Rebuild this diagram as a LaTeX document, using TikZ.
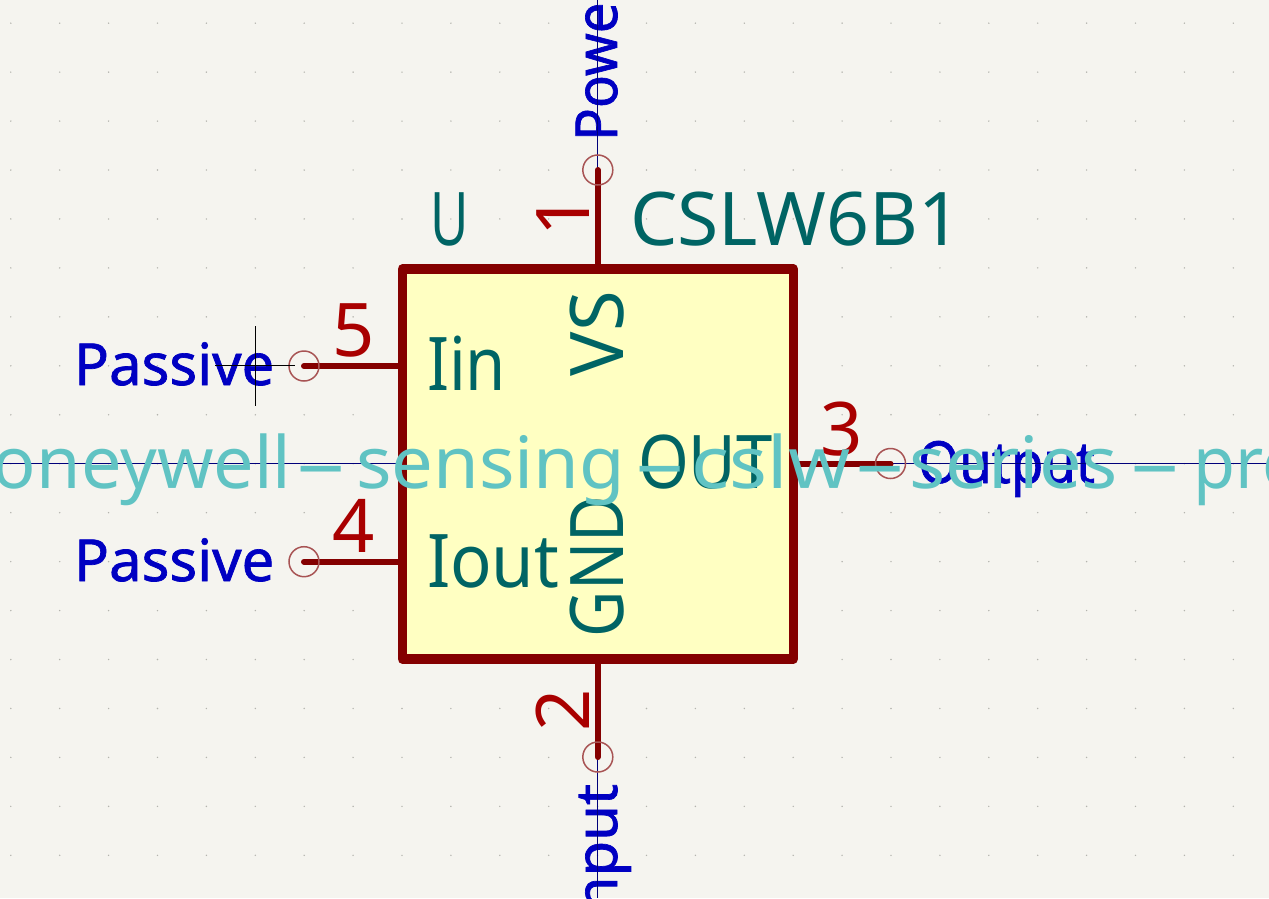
\documentclass[tikz,border=0pt]{standalone}
\usepackage{fontspec}
\setmainfont{Noto Sans}
\newfontfamily\typefont[FakeBold=1.2]{Noto Sans}
\usetikzlibrary{positioning}
\definecolor{sheetbg}{HTML}{F5F4EF}
\definecolor{griddot}{HTML}{B4B4AE}
\definecolor{bodyline}{HTML}{840000}
\definecolor{bodyfill}{HTML}{FFFFC2}
\definecolor{pinnum}{HTML}{A90000}
\definecolor{pinend}{HTML}{A85454}
\definecolor{refteal}{HTML}{006464}
\definecolor{typeblue}{HTML}{0000C2}
\definecolor{fieldteal}{HTML}{60C3C3}
\definecolor{wirenavy}{HTML}{00007A}
\newcommand{\sqz}[2]{\scalebox{#1}[1]{#2}}
\newcommand{\longhy}{\scalebox{2.3}[1]{-}}
\begin{document}
\begin{tikzpicture}[
    x=1pt, y=-1pt,
    every node/.style={inner sep=0pt, outer sep=0pt},
    ic/.style={rectangle, draw=bodyline, fill=bodyfill, line width=9.5pt, line join=round, minimum width=391pt, minimum height=390pt},
    pinline/.style={draw=bodyline, line width=6pt, line cap=round},
    pinring/.style={draw=pinend, line width=1.5pt},
    wire/.style={draw=wirenavy, line width=1pt},
    cursor/.style={draw=black, line width=0.8pt},
    reftxt/.style={text=refteal, font=\fontsize{74}{74}\selectfont},
    numtxt/.style={text=pinnum, font=\fontsize{74}{74}\selectfont},
    typetxt/.style={text=typeblue, font=\fontsize{58}{58}\typefont\selectfont},
    fieldtxt/.style={text=fieldteal, font=\fontsize{72}{72}\selectfont}
]
\fill[sheetbg] (0,0) rectangle (1269,898);
\clip (0,0) rectangle (1269,898);
\foreach \i in {-12,...,13}
  \foreach \j in {-3,...,14}
    \fill[griddot] (597.6+48.9*\i,170+48.95*\j) circle (0.8pt);
\coordinate (p1) at (597.8,170);
\coordinate (p2) at (597.8,757);
\coordinate (p3) at (890.5,463.5);
\coordinate (p4) at (304,561.7);
\coordinate (p5) at (304,366);
\coordinate (topend) at (597.8,0);
\coordinate (botend) at (597.8,898);
\coordinate (leftend) at (0,463.5);
\coordinate (rightend) at (1269,463.5);
\node[ic] (u) at (597.8,464) {};
\node[typetxt, anchor=base west] (t5) at (74,385) {Passive};
\node[typetxt, anchor=base west] (t4) at (74,581) {Passive};
\node[typetxt, anchor=base west] (t3) at (918,483) {\sqz{0.91}{Output}};
\node[typetxt, anchor=base west, rotate=90] (t1) at (617,141) {\sqz{0.94}{Power}};
\node[typetxt, anchor=base east, rotate=90] (t2) at (617,784) {Input};
\draw[wire] (leftend) -- (u.west |- leftend);
\draw[wire] (p3) -- (rightend);
\draw[wire] (p1) -- (topend);
\draw[wire] (p2) -- (botend);
\draw[pinline] (p1) -- (u.north -| p1);
\draw[pinline] (p2) -- (u.south -| p2);
\draw[pinline] (p3) -- (u.east |- p3);
\draw[pinline] (p4) -- (u.west |- p4);
\draw[pinline] (p5) -- (u.west |- p5);
\foreach \p in {p1,p2,p3,p4,p5}
  \draw[pinring] (\p) circle (15pt);
\node[reftxt, anchor=base west] (ref) at (430,245) {\sqz{0.71}{U}};
\node[reftxt, anchor=base west] (val) at (630,245) {\sqz{1.015}{CSLW6B1}};
\node[numtxt, anchor=base west] (n5) at (332,356) {5};
\node[numtxt, anchor=base west] (n4) at (332,552) {4};
\node[numtxt, anchor=base west] (n3) at (820,455) {3};
\node[numtxt, anchor=base west, rotate=90] (n1) at (589,236) {1};
\node[numtxt, anchor=base west, rotate=90] (n2) at (589,731) {2};
\node[reftxt, anchor=base west] (iin) at (427,390) {\sqz{0.88}{Iin}};
\node[reftxt, anchor=base west] (iout) at (427,587) {\sqz{0.93}{Iout}};
\node[reftxt, anchor=base west] (out) at (638,488) {\sqz{0.88}{OUT}};
\node[reftxt, anchor=base west, rotate=90] (vs) at (623,376) {VS};
\node[reftxt, anchor=base west, rotate=90] (gnd) at (623,637) {\sqz{0.86}{GND}};
\draw[cursor] (215,365) -- (295,365);
\draw[cursor] (255.5,326) -- (255.5,405.7);
\node[fieldtxt, anchor=base west] (fld) at (-7,488) {oneywell\hspace{3pt}\longhy\hspace{8.5pt}\sqz{1.03}{sensing}\hspace{8pt}\longhy\hspace{5pt}\sqz{1.10}{cslw}\hspace{3pt}\longhy\hspace{3pt}\sqz{1.05}{series}\hspace{10pt}\longhy\hspace{12.5pt}\sqz{0.95}{pro}};
\end{tikzpicture}
\end{document}
